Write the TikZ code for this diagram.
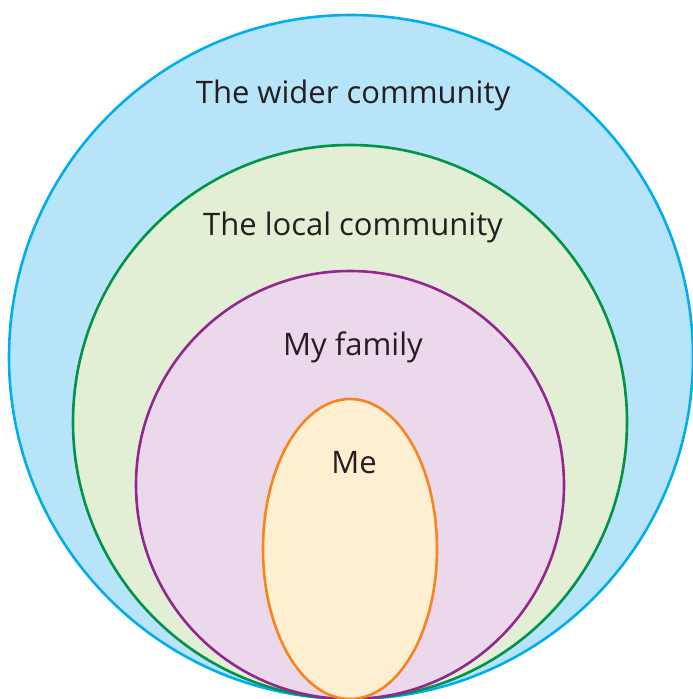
\documentclass[tikz,border=0pt]{standalone}
\usepackage{fontspec}
\setmainfont{Open Sans}
\definecolor{wideLine}{HTML}{00AEEF}
\definecolor{wideFill}{HTML}{B8E4F9}
\definecolor{localLine}{HTML}{00934A}
\definecolor{localFill}{HTML}{E2EFD5}
\definecolor{famLine}{HTML}{92278F}
\definecolor{famFill}{HTML}{EBD9EB}
\definecolor{meLine}{HTML}{F7841F}
\definecolor{meFill}{HTML}{FFEFD1}
\definecolor{ink}{HTML}{231F20}
\begin{document}
\begin{tikzpicture}[x=1pt,y=-1pt,
  ring/.style={line width=2.6pt},
  label/.style={anchor=base,text=ink,font=\fontsize{31}{36}\selectfont,inner sep=0pt}]
\useasboundingbox (0,0) rectangle (693,699);
\begin{scope}
\clip (0,0) rectangle (693,699);
\draw[ring,draw=wideLine,fill=wideFill] (351,357) circle[radius=342];
\draw[ring,draw=localLine,fill=localFill] (350,422) circle[radius=277];
\draw[ring,draw=famLine,fill=famFill] (350,485) circle[radius=214];
\draw[ring,draw=meLine,fill=meFill] (350,549) ellipse[x radius=87,y radius=150];
\end{scope}
\node[label] (wide) at (353,103) {The wider community};
\node[label] (local) at (353,235) {The local community};
\node[label] (fam) at (353,355) {My family};
\node[label] (me) at (354,473) {Me};
\end{tikzpicture}
\end{document}
